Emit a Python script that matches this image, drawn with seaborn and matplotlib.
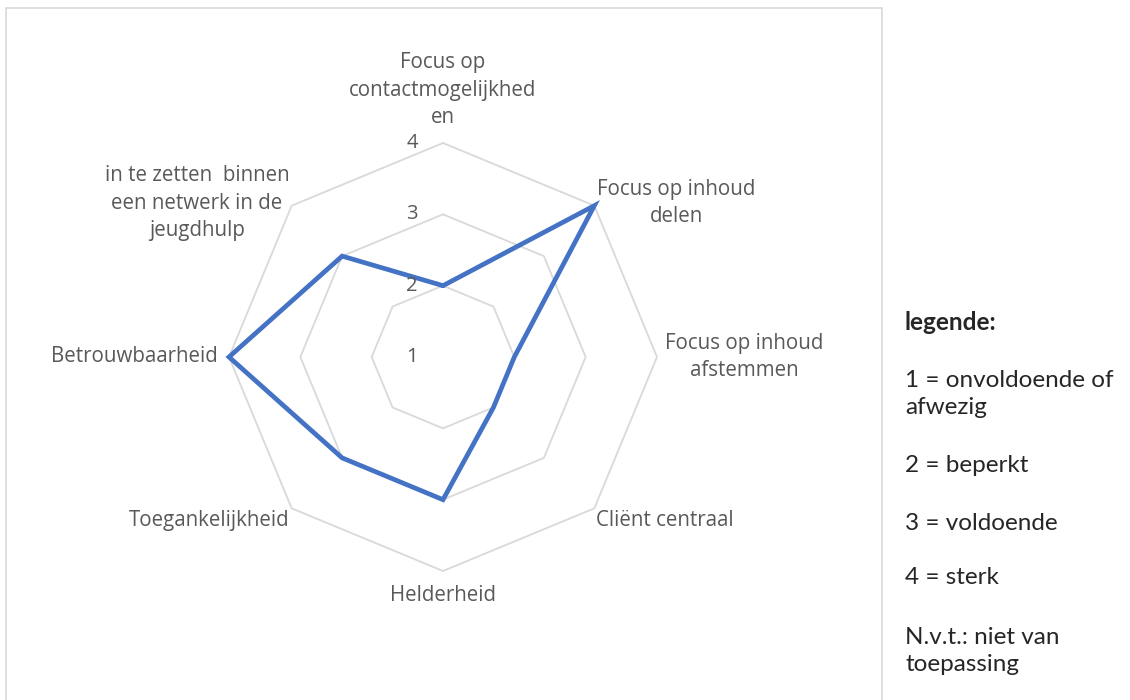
import numpy as np
import pandas as pd
import matplotlib
matplotlib.use("Agg")
import matplotlib.pyplot as plt
import matplotlib.transforms as mtransforms
from matplotlib.patches import Rectangle
import seaborn as sns

categories = [
    "Focus op\ncontactmogelijkhed\nen",
    "Focus op inhoud\ndelen",
    "Focus op inhoud\nafstemmen",
    "Cliënt centraal",
    "Helderheid",
    "Toegankelijkheid",
    "Betrouwbaarheid",
    "in te zetten  binnen\neen netwerk in de\njeugdhulp",
]
values = [2, 4, 2, 2, 3, 3, 4, 3]
ring_levels = [1, 2, 3, 4]
legend_title = "legende:"
legend_lines = [
    "1 = onvoldoende of\nafwezig",
    "2 = beperkt",
    "3 = voldoende",
    "4 = sterk",
    "N.v.t.: niet van\ntoepassing",
]

sns.set_theme(style="white")
plt.rcParams["font.family"] = ["Open Sans", "DejaVu Sans"]

W, H = 1130, 700
fig = plt.figure(figsize=(W / 100, H / 100), dpi=100)
fig.patch.set_facecolor("white")

# chart border
fig.add_artist(Rectangle((6 / W, -0.01), (882 - 6) / W, 1 - 8 / H + 0.01,
                         transform=fig.transFigure, fill=False,
                         edgecolor="#d9d9d9", lw=1.2))

cx, cy, R = 443, 357, 214
ax = fig.add_axes([(cx - R) / W, (H - cy - R) / H, 2 * R / W, 2 * R / H],
                  projection="polar")
ax.set_theta_zero_location("N")
ax.set_theta_direction(-1)
ax.set_ylim(1, 4)
ax.grid(False)
ax.spines["polar"].set_visible(False)
ax.set_xticks([])
ax.set_yticks([])
ax.set_facecolor("none")

n = len(categories)
theta = np.arange(n) * 2 * np.pi / n
theta_c = np.append(theta, 2 * np.pi)

# polygon rings
for lv in ring_levels[1:]:
    ax.plot(theta_c, [lv] * (n + 1), color="#d9d9d9", lw=1.3, zorder=1,
            clip_on=False)

df = pd.DataFrame({"theta": theta_c, "value": values + [values[0]]})
sns.lineplot(data=df, x="theta", y="value", sort=False, estimator=None,
             ax=ax, color="#4472C4", lw=3.4, zorder=3, clip_on=False,
             solid_joinstyle="miter")
ax.set_xlabel("")
ax.set_ylabel("")

# radial value labels
off = mtransforms.offset_copy(ax.transData, fig=fig, x=-31, y=0, units="dots")
for lv in ring_levels:
    ax.text(0, lv, str(lv), transform=off, ha="center", va="center",
            fontsize=14.5, color="#595959")

# category labels
lab_kw = dict(fontsize=14.8, color="#595959", multialignment="center",
              clip_on=False, linespacing=1.4)
placement = [
    (4.21, "center", "bottom"),
    (4.05, "left", "center"),
    (4.11, "left", "center"),
    (4.04, "left", "top"),
    (4.19, "center", "top"),
    (4.04, "right", "top"),
    (4.16, "right", "center"),
    (4.05, "right", "center"),
]
for t, lab, (r, ha, va) in zip(theta, categories, placement):
    ax.text(t, r, lab, ha=ha, va=va, **lab_kw)

# legend text on the right
leg_font = ["Lato", "DejaVu Sans"]
fig.text(905 / W, 1 - 323 / H, legend_title, ha="left", va="center",
         fontsize=17.5, fontweight="bold", color="#262626", family=leg_font)
ys = [394, 465, 523, 578, 651]
for y, line in zip(ys, legend_lines):
    fig.text(905 / W, 1 - y / H, line, ha="left", va="center",
             fontsize=17.5, color="#262626", linespacing=1.4, family=leg_font)

fig.savefig("out.png", dpi=100, facecolor="white")
